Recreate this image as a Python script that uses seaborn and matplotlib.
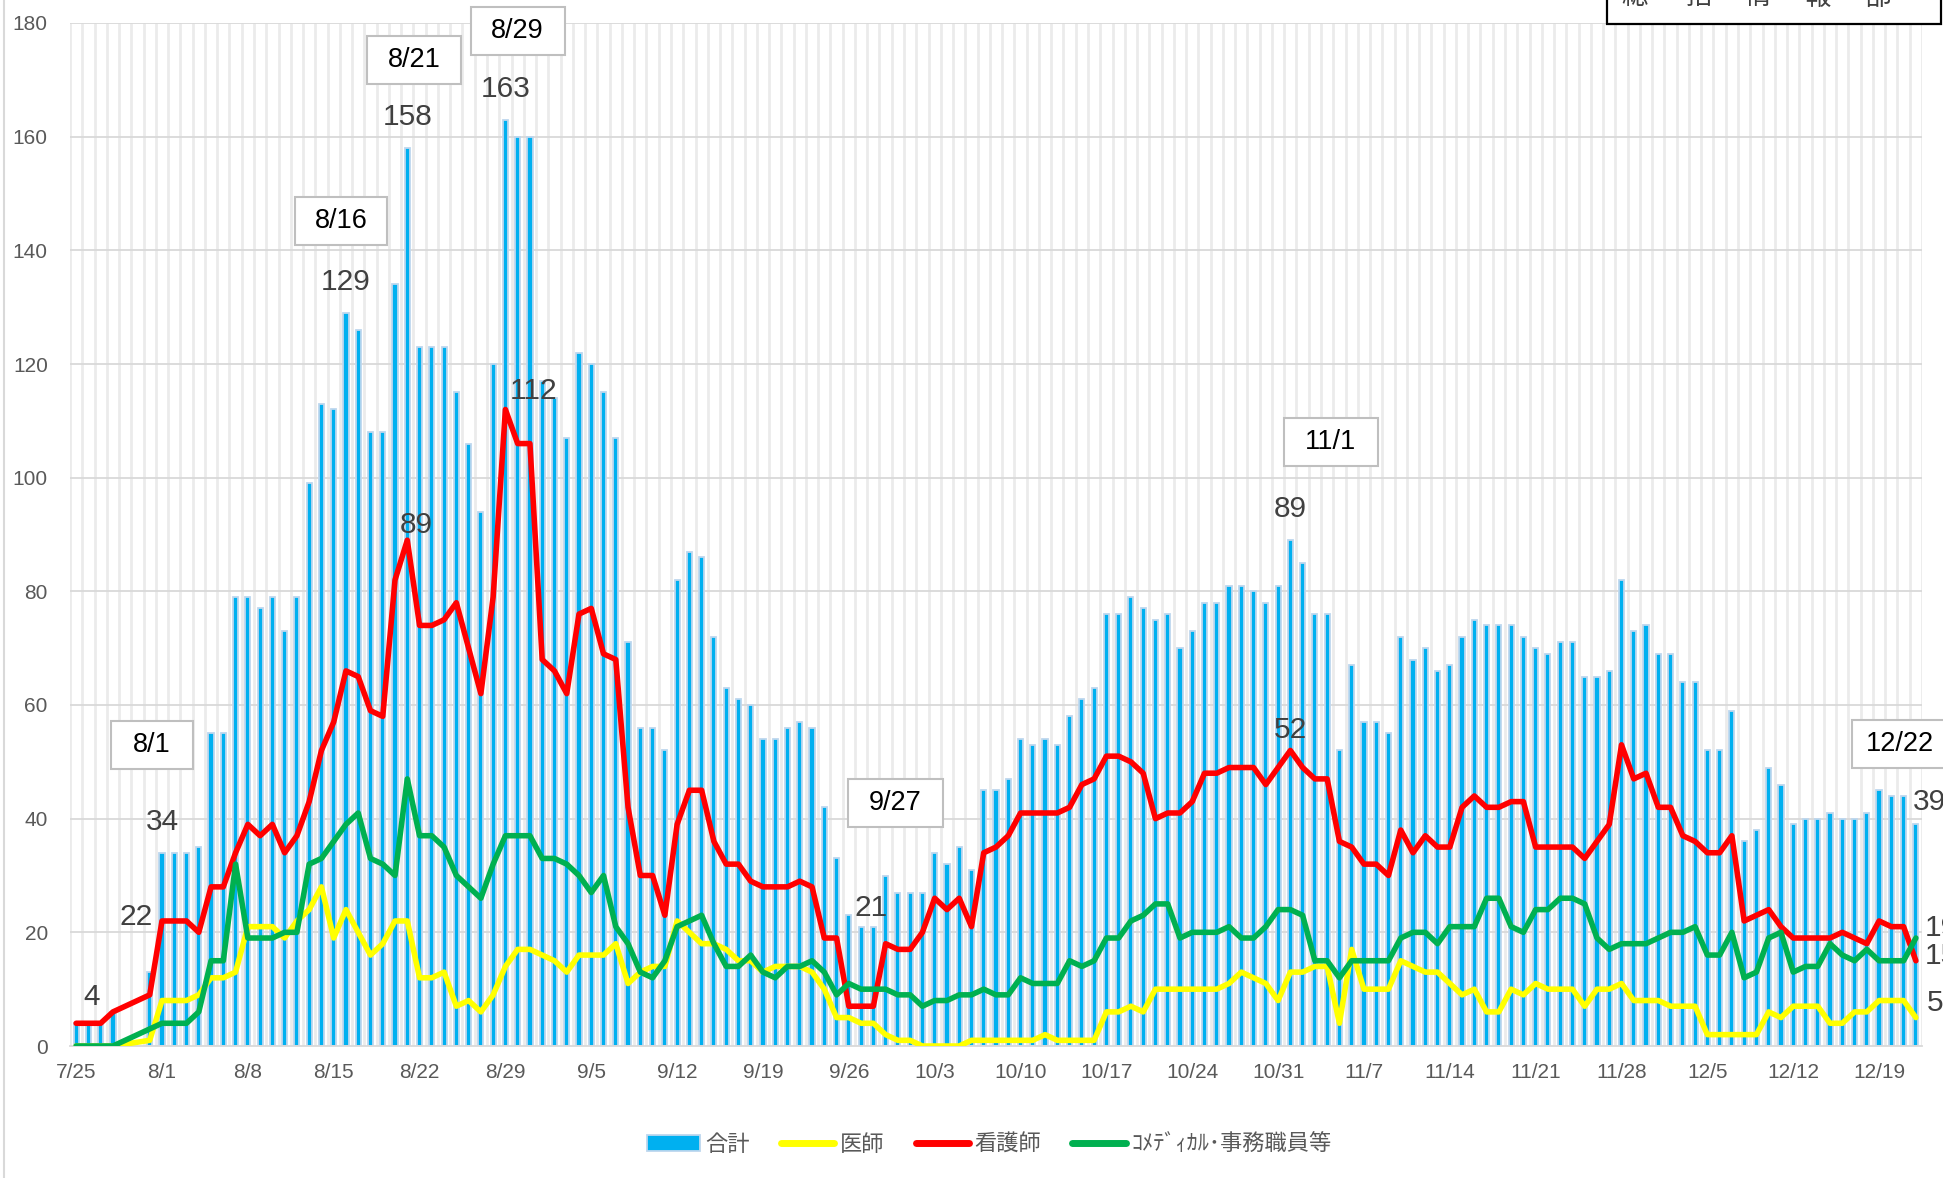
import datetime as dt
import numpy as np
import pandas as pd
import matplotlib
matplotlib.use("Agg")
import matplotlib.pyplot as plt
import seaborn as sns
from matplotlib.patches import Rectangle, Patch
from matplotlib.lines import Line2D

nan = np.nan

# ---------------- data (7/25 .. 12/22, one value per day) ----------------
start = dt.date(2021, 7, 25)
n_days = 151
dates = [start + dt.timedelta(days=i) for i in range(n_days)]
date_labels = [f"{d.month}/{d.day}" for d in dates]

total = ([4, 4, 4, 6, nan, nan, 13]
         + [34, 34, 34, 35, 55, 55, 79, 79, 77, 79, 73, 79, 99, 113, 112, 129, 126, 108, 108, 134,
            158, 123, 123, 123, 115, 106, 94, 120, 163, 160, 160]
         + [117, 114, 107, 122, 120, 115, 107, 71, 56, 56, 52, 82, 87, 86, 72, 63, 61, 60, 54, 54,
            56, 57, 56, 42, 33, 23, 21, 21, 30, 27]
         + [27, 27, 34, 32, 35, 31, 45, 45, 47, 54, 53, 54, 53, 58, 61, 63, 76, 76, 79, 77,
            75, 76, 70, 73, 78, 78, 81, 81, 80, 78, 81]
         + [89, 85, 76, 76, 52, 67, 57, 57, 55, 72, 68, 70, 66, 67, 72, 75, 74, 74, 74, 72,
            70, 69, 71, 71, 65, 65, 66, 82, 73, 74]
         + [69, 69, 64, 64, 52, 52, 59, 36, 38, 49, 46, 39, 40, 40, 41, 40, 40, 41, 45, 44, 44, 39])

doctors = ([0, 0, 0, 0, nan, nan, 1]
           + [8, 8, 8, 9, 12, 12, 13, 21, 21, 21, 19, 22, 24, 28, 19, 24, 20, 16, 18, 22,
              22, 12, 12, 13, 7, 8, 6, 9, 14, 17, 17]
           + [16, 15, 13, 16, 16, 16, 18, 11, 13, 14, 14, 22, 20, 18, 18, 17, 15, 15, 13, 14,
              14, 14, 13, 10, 5, 5, 4, 4, 2, 1]
           + [1, 0, 0, 0, 0, 1, 1, 1, 1, 1, 1, 2, 1, 1, 1, 1, 6, 6, 7, 6,
              10, 10, 10, 10, 10, 10, 11, 13, 12, 11, 8]
           + [13, 13, 14, 14, 4, 17, 10, 10, 10, 15, 14, 13, 13, 11, 9, 10, 6, 6, 10, 9,
              11, 10, 10, 10, 7, 10, 10, 11, 8, 8]
           + [8, 7, 7, 7, 2, 2, 2, 2, 2, 6, 5, 7, 7, 7, 4, 4, 6, 6, 8, 8, 8, 5])

nurses = ([4, 4, 4, 6, nan, nan, 9]
          + [22, 22, 22, 20, 28, 28, 34, 39, 37, 39, 34, 37, 43, 52, 57, 66, 65, 59, 58, 82,
             89, 74, 74, 75, 78, 70, 62, 79, 112, 106, 106]
          + [68, 66, 62, 76, 77, 69, 68, 42, 30, 30, 23, 39, 45, 45, 36, 32, 32, 29, 28, 28,
             28, 29, 28, 19, 19, 7, 7, 7, 18, 17]
          + [17, 20, 26, 24, 26, 21, 34, 35, 37, 41, 41, 41, 41, 42, 46, 47, 51, 51, 50, 48,
             40, 41, 41, 43, 48, 48, 49, 49, 49, 46, 49]
          + [52, 49, 47, 47, 36, 35, 32, 32, 30, 38, 34, 37, 35, 35, 42, 44, 42, 42, 43, 43,
             35, 35, 35, 35, 33, 36, 39, 53, 47, 48]
          + [42, 42, 37, 36, 34, 34, 37, 22, 23, 24, 21, 19, 19, 19, 19, 20, 19, 18, 22, 21, 21, 15])

comedical = ([0, 0, 0, 0, nan, nan, 3]
             + [4, 4, 4, 6, 15, 15, 32, 19, 19, 19, 20, 20, 32, 33, 36, 39, 41, 33, 32, 30,
                47, 37, 37, 35, 30, 28, 26, 32, 37, 37, 37]
             + [33, 33, 32, 30, 27, 30, 21, 18, 13, 12, 15, 21, 22, 23, 18, 14, 14, 16, 13, 12,
                14, 14, 15, 13, 9, 11, 10, 10, 10, 9]
             + [9, 7, 8, 8, 9, 9, 10, 9, 9, 12, 11, 11, 11, 15, 14, 15, 19, 19, 22, 23,
                25, 25, 19, 20, 20, 20, 21, 19, 19, 21, 24]
             + [24, 23, 15, 15, 12, 15, 15, 15, 15, 19, 20, 20, 18, 21, 21, 21, 26, 26, 21, 20,
                24, 24, 26, 26, 25, 19, 17, 18, 18, 18]
             + [19, 20, 20, 21, 16, 16, 20, 12, 13, 19, 20, 13, 14, 14, 18, 16, 15, 17, 15, 15, 15, 19])

series_names = ["合計", "医師", "看護師", "ｺﾒﾃﾞｨｶﾙ･事務職員等"]
highlight_dates = ["8/1", "8/16", "8/21", "8/29", "9/27", "11/1", "12/22"]
y_ticks = list(range(0, 181, 20))

# ---------------- styling ----------------
BLUE, BLUE_EDGE = "#00B0F0", "#BDD7EE"
YELLOW, RED, GREEN = "#FFFF00", "#FF0000", "#00B050"
TXT = "#595959"
LBL = "#404040"

df = pd.DataFrame({"idx": np.arange(n_days), "date": date_labels, "total": total,
                   "doctors": doctors, "nurses": nurses, "comedical": comedical})

sns.set_theme(style="white")
plt.rcParams["font.family"] = ["Liberation Sans", "Noto Sans CJK JP", "DejaVu Sans"]

W, H = 1943, 1178
fig = plt.figure(figsize=(W / 100, H / 100), dpi=100)
ax = fig.add_axes([70 / W, 1 - 1046 / H, (1922 - 70) / W, (1046 - 23) / H])

# vertical day grid + horizontal grid
for i in range(n_days + 1):
    ax.axvline(i - 0.5, color="#EBEBEB", lw=2.0, zorder=0)
for v in y_ticks[1:]:
    ax.axhline(v, color="#D9D9D9", lw=1.3, zorder=0.5)

bars = df.dropna(subset=["total"])
sns.barplot(data=bars, x="idx", y="total", order=list(range(n_days)), color=BLUE,
            saturation=1, width=0.42, edgecolor=BLUE_EDGE, linewidth=1.3, ax=ax, zorder=2)

for col, c in [("doctors", YELLOW), ("nurses", RED), ("comedical", GREEN)]:
    sns.lineplot(data=df, x="idx", y=col, color=c, lw=4.0, errorbar=None, ax=ax,
                 zorder=3, solid_joinstyle="round")

ax.set_xlim(-0.5, n_days - 0.5)
ax.set_ylim(0, 180)
ax.set_xlabel("")
ax.set_ylabel("")
ax.set_yticks(y_ticks)
ax.set_yticklabels([str(v) for v in y_ticks], fontsize=15, color=TXT)
xt = list(range(0, n_days, 7))
ax.set_xticks(xt)
ax.set_xticklabels([date_labels[i] for i in xt], fontsize=15, color=TXT)
ax.set_xticks([i - 0.5 for i in xt], minor=True)
ax.tick_params(axis="x", which="major", length=0, pad=12)
ax.tick_params(axis="x", which="minor", length=6, color="#BFBFBF", width=1.3, direction="out")
ax.tick_params(axis="y", length=0, pad=16)
for s in ["top", "right", "left"]:
    ax.spines[s].set_visible(False)
ax.spines["bottom"].set_color("#D9D9D9")
ax.spines["bottom"].set_linewidth(1.3)

# ---------------- data labels ----------------
def lab(i, v, text, dx, dy, ha="center"):
    ax.annotate(text, (i, v), xytext=(dx, dy), textcoords="offset pixels", ha=ha, va="center",
                fontsize=21.5, color=LBL, zorder=6, annotation_clip=False)

idx = {d: k for k, d in enumerate(date_labels)}
lab(idx["7/25"], total[0], str(total[0]), 15, 26)
lab(idx["8/1"], nurses[idx["8/1"]], str(nurses[idx["8/1"]]), -26, 4)
lab(idx["8/1"], total[idx["8/1"]], str(total[idx["8/1"]]), 0, 31)
for d in ["8/16", "8/21", "8/29", "11/1"]:
    lab(idx[d], total[idx[d]], str(total[idx[d]]), 0, 31)
lab(idx["8/21"], nurses[idx["8/21"]], str(nurses[idx["8/21"]]), 9, 15)
lab(idx["8/29"], nurses[idx["8/29"]], str(nurses[idx["8/29"]]), 28, 18)
lab(idx["9/27"], total[idx["9/27"]], str(total[idx["9/27"]]), 10, 19)
lab(idx["11/1"], nurses[idx["11/1"]], str(nurses[idx["11/1"]]), 0, 20)
last = n_days - 1
lab(last, total[last], str(total[last]), -3, 22, ha="left")
lab(last, comedical[last], str(comedical[last]), 9, 10, ha="left")
lab(last, nurses[last], str(nurses[last]), 9, 5, ha="left")
lab(last, doctors[last], str(doctors[last]), 11, 15, ha="left")

# ---------------- date call-out boxes ----------------
px_x = (1922 - 70) / n_days
px_y = (1046 - 23) / 180
box_pos = {"8/1": (6.19, 52.9, 82), "8/16": (21.6, 145.2, 92), "8/21": (27.55, 173.5, 94),
           "8/29": (35.99, 178.6, 94), "9/27": (66.8, 42.8, 95), "11/1": (102.3, 106.2, 94),
           "12/22": (148.7, 53.2, 95)}
for d in highlight_dates:
    xc, yc, wpx = box_pos[d]
    w = wpx / px_x
    h = 48 / px_y
    ax.add_patch(Rectangle((xc - w / 2, yc - h / 2), w, h, facecolor="white",
                           edgecolor="#BFBFBF", lw=1.5, zorder=5, clip_on=False))
    ax.text(xc, yc, d, ha="center", va="center", fontsize=19.5, color="black", zorder=6,
            clip_on=False)

# ---------------- legend ----------------
handles = [Patch(facecolor=BLUE, edgecolor=BLUE_EDGE, lw=1.3),
           Line2D([], [], color=YELLOW, lw=5, solid_capstyle="round"),
           Line2D([], [], color=RED, lw=5, solid_capstyle="round"),
           Line2D([], [], color=GREEN, lw=5, solid_capstyle="round")]
leg = fig.legend(handles, series_names, loc="center", bbox_to_anchor=(989 / W, 1 - 1145 / H),
                 ncol=4, frameon=False, fontsize=16, handlelength=2.4, handletextpad=0.25,
                 columnspacing=1.4)
for t in leg.get_texts():
    t.set_color(TXT)

# ---------------- top-right title box (cut off) and chart border ----------------
fig.add_artist(Rectangle((1607 / W, 1 - 24 / H), (1941 - 1607) / W, 40 / H,
                         transform=fig.transFigure, facecolor="white", edgecolor="black",
                         lw=1.6, zorder=1))
for ch, xp in zip("総括情報部", [1635, 1698, 1757, 1818, 1878]):
    fig.text(xp / W, 1 + 3 / H, ch, ha="center", va="center", fontsize=19, color="#404040",
             family=["Noto Sans CJK JP"])
fig.add_artist(Line2D([4 / W, 4 / W], [0, 1], transform=fig.transFigure, color="#D9D9D9", lw=1.5))

fig.savefig("out.png", dpi=100)
